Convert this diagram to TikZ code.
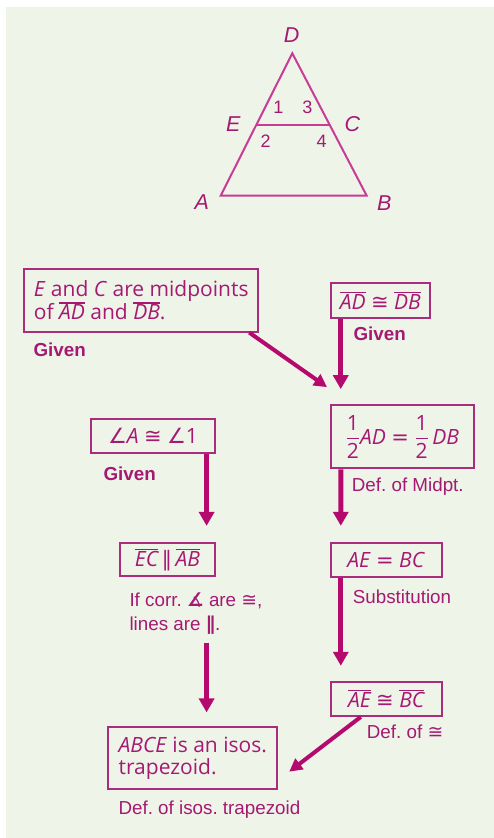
\documentclass[tikz,border=0pt]{standalone}
\usepackage{fontspec}
\setmainfont{Open Sans}
\newfontfamily\labfont{Liberation Sans}
\newfontfamily\symf{DejaVu Sans}
\usetikzlibrary{arrows.meta,calc}
\definecolor{bgc}{RGB}{238,244,232}
\definecolor{txtc}{RGB}{165,25,115}
\definecolor{boxc}{RGB}{170,45,125}
\definecolor{arrc}{RGB}{180,10,110}
\definecolor{tric}{RGB}{200,60,150}
\newcommand{\ov}[1]{\leavevmode\vbox{\hrule height 1.1pt\kern1.3pt\hbox{\itshape #1}}}
\newcommand{\cng}{{\symf ≅}}
\newcommand{\hf}{\ensuremath{\displaystyle{\hbox{1}\above 1.1pt\hbox{2}}}}
\begin{document}
\frenchspacing
\begin{tikzpicture}[x=1pt,y=-1pt,
  box/.style={draw=boxc, line width=1.8pt, text=txtc, inner sep=0pt,
    font=\fontsize{21}{22}\selectfont, align=left},
  note/.style={text=txtc, anchor=west, inner sep=0pt, align=left,
    font=\labfont\fontsize{18.8}{24.3}\selectfont},
  given/.style={note, font=\labfont\bfseries\fontsize{18.8}{24.3}\selectfont},
  arr/.style={draw=arrc, line width=5pt, -{Triangle[width=15pt,length=14pt]}},
  darr/.style={draw=arrc, line width=4pt, -{Triangle[width=13pt,length=13pt]}},
  vlab/.style={text=txtc, inner sep=0pt, font=\labfont\itshape\fontsize{21.5}{21.5}\selectfont},
  nlab/.style={text=txtc, inner sep=0pt, font=\labfont\fontsize{18}{18}\selectfont}]
\useasboundingbox (0,0) rectangle (494,838);
\fill[bgc] (6,7) rectangle (494,838);
% triangle
\coordinate (D) at (292.3,53.3);
\coordinate (A) at (220.7,195.7);
\coordinate (B) at (366.7,195.7);
\coordinate (E) at ($(D)!0.5!(A)$);
\coordinate (C) at ($(D)!0.5!(B)$);
\draw[tric, line width=2pt, line join=miter] (A) -- (B) -- (D) -- cycle;
\draw[tric, line width=2pt] (E) -- (C);
\node[vlab] (lD) at (291.7,35.5) {D};
\node[vlab] (lE) at (233.3,124.3) {E};
\node[vlab] (lC) at (352.3,124.3) {C};
\node[vlab] (lA) at (201.7,201.7) {A};
\node[vlab] (lB) at (384.3,203.3) {B};
\node[nlab] (n1) at (278.3,107.3) {1};
\node[nlab] (n3) at (307.3,107.3) {3};
\node[nlab] (n2) at (265.7,141) {2};
\node[nlab] (n4) at (321.7,141) {4};
% boxes
\node[box, minimum width=234.3pt, minimum height=62.7pt] (b1) at (141.2,300.3)
  {\textit{E} and \textit{C} are midpoints\\of \ov{AD} and \ov{DB}.};
\node[box, minimum width=99.3pt, minimum height=35pt] (b2) at (380.3,300.8)
  {\ov{AD} \cng\ \ov{DB}};
\node[box, minimum width=124pt, minimum height=34.3pt] (b3) at (153,436.2)
  {{\symf ∠}\textit{A} \cng\ {\symf ∠}1};
\node[box, minimum width=143.3pt, minimum height=63.3pt] (b4) at (402.3,436.7)
  {\hf\textit{AD} {\symf =} \hf\,\textit{DB}};
\node[box, minimum width=95pt, minimum height=32.7pt] (b5) at (167.5,559.7)
  {\ov{EC}\,{\symf ∥}\,\ov{AB}};
\node[box, minimum width=111pt, minimum height=34pt] (b6) at (386.2,560.3)
  {\textit{AE} {\symf =} \textit{BC}};
\node[box, minimum width=111pt, minimum height=34.3pt] (b7) at (386.2,698.8)
  {\ov{AE} \cng\ \ov{BC}};
\node[box, minimum width=169pt, minimum height=62pt] (b8) at (192.8,758.3)
  {\textit{ABCE} is an isos.\\trapezoid.};
% reasons
\node[given] (g1) at (33.3,350) {Given};
\node[given] (g2) at (353.3,333.3) {Given};
\node[given] (g3) at (103.3,473.3) {Given};
\node[note] (r4) at (351.7,486.7) {Def. of Midpt.};
\node[note] (r5) at (129.3,613.8) {If corr. {\symf\bfseries ∡} are \cng,\\lines are {\symf\bfseries ∥}.};
\node[note] (r6) at (352.7,596.7) {Substitution};
\node[note] (r7) at (366.7,731.7) {Def. of \cng};
\node[note] (r8) at (118.3,810) {Def. of isos. trapezoid};
% arrows
\coordinate (lx) at ([xshift=-9.3pt]b5.south east);
\draw[darr] ([xshift=-10pt]b1.south east) -- ([xshift=-2.7pt,yshift=17pt]b4.north west);
\draw[arr, shorten >=15pt] ([xshift=11pt]b2.south west) -- ([xshift=11pt]b4.north west);
\draw[arr, shorten >=16.6pt] ([xshift=-9.3pt]b3.south east) -- ([xshift=-9.3pt]b5.north east);
\draw[arr, shorten >=16.6pt] ([xshift=11pt]b4.south west) -- ([xshift=11pt]b6.north west);
\draw[arr, shorten >=15pt] ([xshift=11pt]b6.south west) -- ([xshift=11pt]b7.north west);
\draw[arr, shorten <=65.7pt, shorten >=14pt] (lx) -- (lx |- b8.north);
\draw[darr] ([xshift=31pt]b7.south west) -- ([xshift=11pt,yshift=-13.4pt]b8.east);
\end{tikzpicture}
\end{document}
